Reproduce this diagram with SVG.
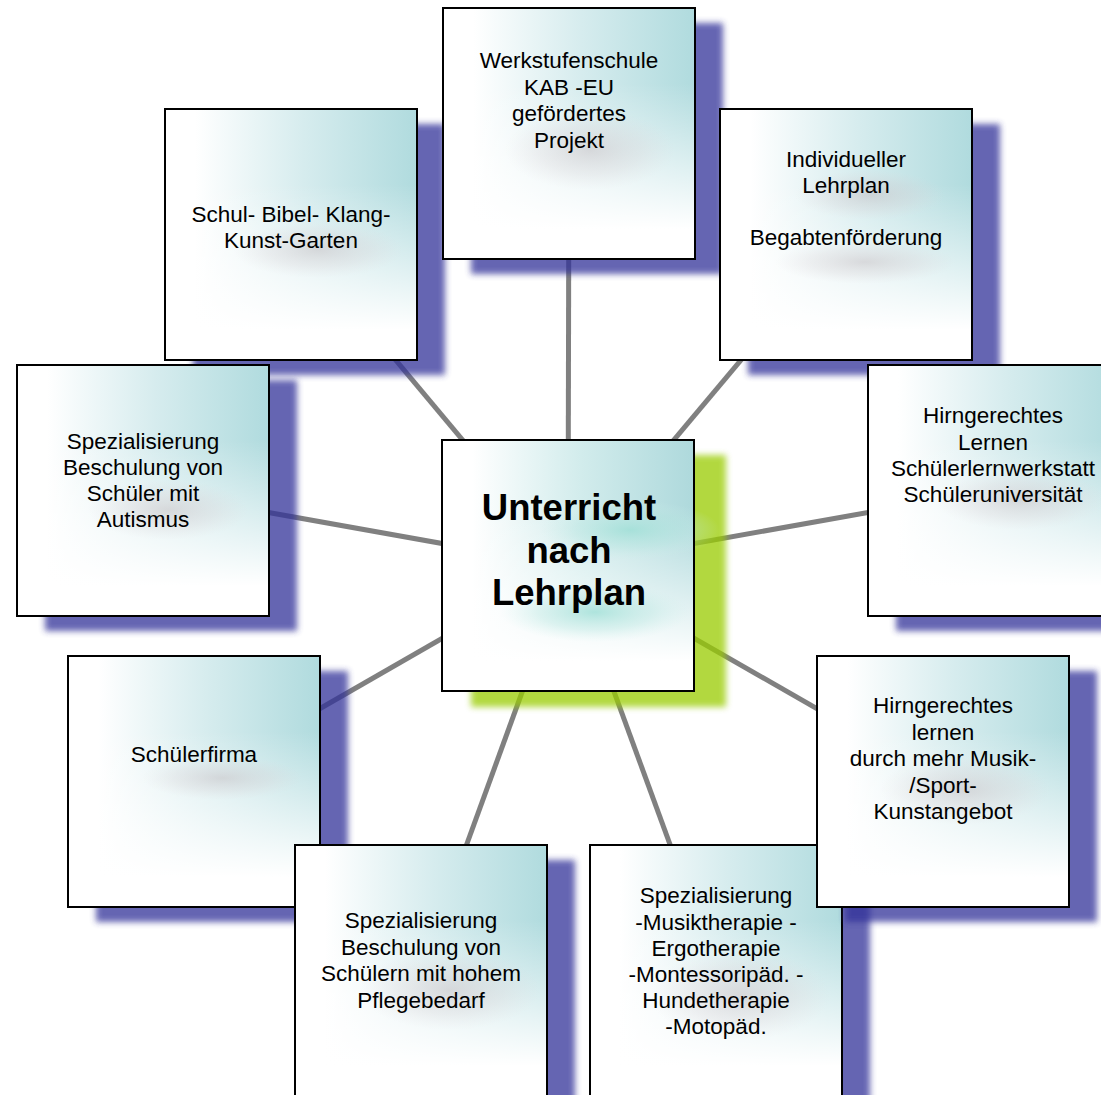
<svg xmlns="http://www.w3.org/2000/svg" width="1101" height="1095" viewBox="0 0 1101 1095">
<style>
.shadow{fill:#333399;opacity:.75;filter:url(#blur)}
.gshadow{fill:#99cc00;opacity:.75;filter:url(#blur)}
.base{fill:#fff}
.teal{fill:url(#teal)}
.tealc{fill:url(#tealc)}
.fade{fill:url(#fade)}
.blob{fill:url(#blob)}
.mint{fill:url(#mint)}
.border{fill:none;stroke:#000;stroke-width:2}
.t{font-family:"Liberation Sans",Arial,Helvetica,sans-serif;font-size:22.5px;text-anchor:middle;fill:#000}
.tc{font-weight:bold;font-size:36.5px}
.conn{stroke:#808080;stroke-width:5;fill:none}
</style>
<defs>
<filter id="blur" x="-10%" y="-10%" width="120%" height="120%"><feGaussianBlur stdDeviation="3"/></filter>
<linearGradient id="teal" x1="0" y1="0" x2="1" y2="0">
<stop offset="0.12" stop-color="#ffffff"/>
<stop offset="0.55" stop-color="#d6ecee"/>
<stop offset="1" stop-color="#b0dbde"/>
</linearGradient>
<linearGradient id="tealc" x1="0" y1="0" x2="1" y2="0">
<stop offset="0.12" stop-color="#ffffff"/>
<stop offset="0.55" stop-color="#d2ecec"/>
<stop offset="1" stop-color="#aed9dc"/>
</linearGradient>
<linearGradient id="fade" x1="0" y1="0" x2="0" y2="1">
<stop offset="0.3" stop-color="#fff" stop-opacity="0"/>
<stop offset="0.88" stop-color="#fff" stop-opacity="1"/>
</linearGradient>
<radialGradient id="blob" cx="0.5" cy="0.5" r="0.5">
<stop offset="0" stop-color="#c4bcc0" stop-opacity="0.5"/>
<stop offset="0.6" stop-color="#d4ccd0" stop-opacity="0.25"/>
<stop offset="1" stop-color="#e0d8dc" stop-opacity="0"/>
</radialGradient>
<radialGradient id="mint" cx="0.5" cy="0.5" r="0.5">
<stop offset="0" stop-color="#9edfd6" stop-opacity="0.8"/>
<stop offset="0.6" stop-color="#b6e6e0" stop-opacity="0.4"/>
<stop offset="1" stop-color="#d0f0ec" stop-opacity="0"/>
</radialGradient>
</defs>

<g id="connectors">
<line class="conn" x1="568" y1="566" x2="569" y2="134"/>
<line class="conn" x1="568" y1="566" x2="291" y2="235"/>
<line class="conn" x1="568" y1="566" x2="846" y2="235"/>
<line class="conn" x1="568" y1="566" x2="143" y2="490"/>
<line class="conn" x1="568" y1="566" x2="994" y2="490"/>
<line class="conn" x1="568" y1="566" x2="194" y2="781"/>
<line class="conn" x1="568" y1="566" x2="943" y2="781"/>
<line class="conn" x1="568" y1="566" x2="421" y2="970"/>
<line class="conn" x1="568" y1="566" x2="716" y2="970"/>
</g>

<g id="node-garten">
<rect class="shadow" x="193" y="124" width="252" height="251"/>
<rect class="base" x="165" y="109" width="252" height="251"/>
<rect class="teal" x="165" y="109" width="252" height="251"/>
<rect class="fade" x="165" y="109" width="252" height="251"/>
<ellipse class="blob" cx="318" cy="250" rx="85" ry="28"/>
<rect class="border" x="165" y="109" width="252" height="251"/>
<text class="t" x="291" y="222">Schul- Bibel- Klang-</text>
<text class="t" x="291" y="248">Kunst-Garten</text>
</g>

<g id="node-werkstufe">
<rect class="shadow" x="471" y="23" width="252" height="251"/>
<rect class="base" x="443" y="8" width="252" height="251"/>
<rect class="teal" x="443" y="8" width="252" height="251"/>
<rect class="fade" x="443" y="8" width="252" height="251"/>
<ellipse class="blob" cx="590" cy="150" rx="85" ry="40"/>
<rect class="border" x="443" y="8" width="252" height="251"/>
<text class="t" x="569" y="68">Werkstufenschule</text>
<text class="t" x="569" y="94.5">KAB -EU</text>
<text class="t" x="569" y="121">gefördertes</text>
<text class="t" x="569" y="147.5">Projekt</text>
</g>

<g id="node-lehrplan">
<rect class="shadow" x="748" y="124" width="252" height="251"/>
<rect class="base" x="720" y="109" width="252" height="251"/>
<rect class="teal" x="720" y="109" width="252" height="251"/>
<rect class="fade" x="720" y="109" width="252" height="251"/>
<ellipse class="blob" cx="870" cy="195" rx="75" ry="25"/>
<ellipse class="blob" cx="865" cy="262" rx="90" ry="22"/>
<rect class="border" x="720" y="109" width="252" height="251"/>
<text class="t" x="846" y="167">Individueller</text>
<text class="t" x="846" y="193">Lehrplan</text>
<text class="t" x="846" y="245">Begabtenförderung</text>
</g>

<g id="node-autismus">
<rect class="shadow" x="45" y="380" width="252" height="251"/>
<rect class="base" x="17" y="365" width="252" height="251"/>
<rect class="teal" x="17" y="365" width="252" height="251"/>
<rect class="fade" x="17" y="365" width="252" height="251"/>
<ellipse class="blob" cx="168" cy="510" rx="80" ry="30"/>
<rect class="border" x="17" y="365" width="252" height="251"/>
<text class="t" x="143" y="449">Spezialisierung</text>
<text class="t" x="143" y="475">Beschulung von</text>
<text class="t" x="143" y="501">Schüler mit</text>
<text class="t" x="143" y="527">Autismus</text>
</g>

<g id="node-hirn1">
<rect class="shadow" x="896" y="380" width="252" height="251"/>
<rect class="base" x="868" y="365" width="252" height="251"/>
<rect class="teal" x="868" y="365" width="252" height="251"/>
<rect class="fade" x="868" y="365" width="252" height="251"/>
<ellipse class="blob" cx="1020" cy="500" rx="85" ry="30"/>
<rect class="border" x="868" y="365" width="252" height="251"/>
<text class="t" x="993" y="423">Hirngerechtes</text>
<text class="t" x="993" y="450">Lernen</text>
<text class="t" x="993" y="476">Schülerlernwerkstatt</text>
<text class="t" x="993" y="502">Schüleruniversität</text>
</g>

<g id="node-center">
<rect class="gshadow" x="471" y="455" width="255" height="252"/>
<rect class="base" x="442" y="440" width="252" height="251"/>
<rect class="tealc" x="442" y="440" width="252" height="251"/>
<rect class="fade" x="442" y="440" width="252" height="251"/>
<ellipse class="mint" cx="630" cy="530" rx="90" ry="30"/>
<ellipse class="mint" cx="595" cy="612" rx="95" ry="30"/>
<rect class="border" x="442" y="440" width="252" height="251"/>
<text class="t tc" x="569" y="520">Unterricht</text>
<text class="t tc" x="569" y="562.5">nach</text>
<text class="t tc" x="569" y="605">Lehrplan</text>
</g>

<g id="node-firma">
<rect class="shadow" x="96" y="671" width="252" height="251"/>
<rect class="base" x="68" y="656" width="252" height="251"/>
<rect class="teal" x="68" y="656" width="252" height="251"/>
<rect class="fade" x="68" y="656" width="252" height="251"/>
<ellipse class="blob" cx="222" cy="778" rx="80" ry="22"/>
<rect class="border" x="68" y="656" width="252" height="251"/>
<text class="t" x="194" y="762">Schülerfirma</text>
</g>

<g id="node-pflege">
<rect class="shadow" x="323" y="860" width="252" height="251"/>
<rect class="base" x="295" y="845" width="252" height="251"/>
<rect class="teal" x="295" y="845" width="252" height="251"/>
<rect class="fade" x="295" y="845" width="252" height="251"/>
<ellipse class="blob" cx="450" cy="990" rx="90" ry="40"/>
<rect class="border" x="295" y="845" width="252" height="251"/>
<text class="t" x="421" y="928">Spezialisierung</text>
<text class="t" x="421" y="955">Beschulung von</text>
<text class="t" x="421" y="981">Schülern mit hohem</text>
<text class="t" x="421" y="1008">Pflegebedarf</text>
</g>

<g id="node-therapie">
<rect class="shadow" x="618" y="860" width="252" height="251"/>
<rect class="base" x="590" y="845" width="252" height="251"/>
<rect class="teal" x="590" y="845" width="252" height="251"/>
<rect class="fade" x="590" y="845" width="252" height="251"/>
<ellipse class="blob" cx="740" cy="995" rx="90" ry="45"/>
<rect class="border" x="590" y="845" width="252" height="251"/>
<text class="t" x="716" y="903">Spezialisierung</text>
<text class="t" x="716" y="930">-Musiktherapie -</text>
<text class="t" x="716" y="956">Ergotherapie</text>
<text class="t" x="716" y="982">-Montessoripäd. -</text>
<text class="t" x="716" y="1008">Hundetherapie</text>
<text class="t" x="716" y="1034">-Motopäd.</text>
</g>

<g id="node-hirn2">
<rect class="shadow" x="845" y="671" width="252" height="251"/>
<rect class="base" x="817" y="656" width="252" height="251"/>
<rect class="teal" x="817" y="656" width="252" height="251"/>
<rect class="fade" x="817" y="656" width="252" height="251"/>
<ellipse class="blob" cx="965" cy="790" rx="85" ry="35"/>
<rect class="border" x="817" y="656" width="252" height="251"/>
<text class="t" x="943" y="713">Hirngerechtes</text>
<text class="t" x="943" y="739.5">lernen</text>
<text class="t" x="943" y="766">durch mehr Musik-</text>
<text class="t" x="943" y="792.5">/Sport-</text>
<text class="t" x="943" y="819">Kunstangebot</text>
</g>
</svg>
